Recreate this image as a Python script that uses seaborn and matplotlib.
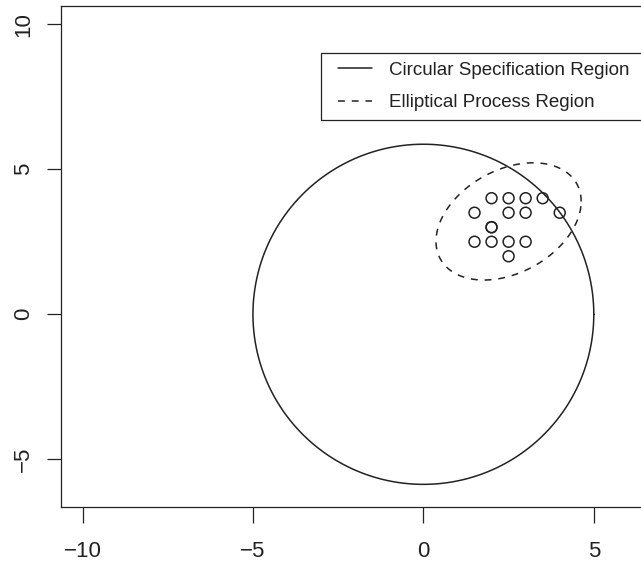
import numpy as np
import pandas as pd
import matplotlib
matplotlib.use("Agg")
import matplotlib.pyplot as plt
from matplotlib.legend_handler import HandlerLine2D
from matplotlib.lines import Line2D
from matplotlib.patches import Rectangle
from matplotlib.transforms import IdentityTransform
import seaborn as sns

# ---- data ----
obs_x = [2.0, 2.5, 3.0, 3.5, 1.5, 2.5, 3.0, 4.0, 2.0, 2.0, 1.5, 2.0, 2.5, 3.0, 2.5]
obs_y = [4.0, 4.0, 4.0, 4.0, 3.5, 3.5, 3.5, 3.5, 3.0, 3.0, 2.5, 2.5, 2.5, 2.5, 2.0]

spec_center = (0.0, 0.0)
spec_radius_x = 5.0
spec_radius_y = 5.86

proc_center = (2.5, 3.2)
proc_half_x = 2.13
proc_half_y = 2.02
proc_corr = 0.34

x_ticks = [-10, -5, 0, 5]
y_ticks = [-5, 0, 5, 10]
legend_labels = ["Circular Specification Region", "Elliptical Process Region"]

# ---- style ----
sns.set_style("white")
plt.rcParams["font.family"] = ["Liberation Sans", "DejaVu Sans"]
INK = "#222222"

W, H = 641, 564
fig = plt.figure(figsize=(W / 100, H / 100), dpi=100)
ax_left, ax_right, ax_top, ax_bottom = 60.7, 649.7, 5.5, 507.0
ax = fig.add_axes([ax_left / W, 1 - ax_bottom / H,
                   (ax_right - ax_left) / W, (ax_bottom - ax_top) / H])

t = np.linspace(0, 2 * np.pi, 400)
spec_df = pd.DataFrame({
    "x": spec_center[0] + spec_radius_x * np.cos(t),
    "y": spec_center[1] + spec_radius_y * np.sin(t),
})
proc_df = pd.DataFrame({
    "x": proc_center[0] + proc_half_x * np.cos(t),
    "y": proc_center[1] + proc_half_y * (proc_corr * np.cos(t)
                                         + np.sqrt(1 - proc_corr ** 2) * np.sin(t)),
})
pts_df = pd.DataFrame({"x": obs_x, "y": obs_y})

sns.lineplot(data=spec_df, x="x", y="y", sort=False, estimator=None,
             color=INK, linewidth=1.1, ax=ax)
sns.lineplot(data=proc_df, x="x", y="y", sort=False, estimator=None,
             color=INK, linewidth=1.1, ax=ax, dashes=False)
ax.lines[-1].set_dashes((4.5, 4.5))
sns.scatterplot(data=pts_df, x="x", y="y", ax=ax, s=62, marker="o",
                facecolor="none", edgecolor=INK, linewidth=1.1, zorder=3)

ax.set_xlim(-10.64, 6.64)
ax.set_ylim(-6.64, 10.64)
ax.set_xticks(x_ticks)
ax.set_yticks(y_ticks)
ax.set_xticklabels([f"{v}".replace("-", "\u2212") for v in x_ticks])
ax.set_yticklabels([f"{v}".replace("-", "\u2212") for v in y_ticks],
                   rotation=90, va="center")
ax.set_xlabel("")
ax.set_ylabel("")
for s in ax.spines.values():
    s.set_visible(True)
    s.set_color(INK)
    s.set_linewidth(0.9)
ax.tick_params(axis="x", direction="out", length=11.5, width=0.9, color=INK,
               labelsize=16, pad=13, labelcolor=INK, bottom=True)
ax.tick_params(axis="y", direction="out", length=10, width=0.9, color=INK,
               labelsize=16, pad=9, labelcolor=INK, left=True)

# ---- legend ----
fs_pt = 13.5
fs_px = fs_pt * 100 / 72
lead_px = 8.5


class ShiftedLine(HandlerLine2D):
    def get_xdata(self, legend, xdescent, ydescent, width, height, fontsize):
        x0 = -xdescent + lead_px * 72 / 100
        return [x0, -xdescent + width], [0.5 * (x0 - xdescent + width)]


h1 = Line2D([], [], color=INK, linewidth=1.1)
h2 = Line2D([], [], color=INK, linewidth=1.1, dashes=(4.5, 4.5))
leg = ax.legend([h1, h2], legend_labels, loc="upper left",
                bbox_to_anchor=(-3, 9), bbox_transform=ax.transData,
                fontsize=fs_pt, frameon=True, fancybox=False, shadow=False,
                borderpad=0.45, borderaxespad=0,
                handlelength=(34 + lead_px) / fs_px, handletextpad=0.9,
                labelspacing=0.82,
                handler_map={Line2D: ShiftedLine()})
leg.get_frame().set_visible(False)
for txt in leg.get_texts():
    txt.set_color(INK)

# frame of the legend box, which runs past the right edge of the figure
fig.canvas.draw()
bb = leg.get_window_extent()
fig.add_artist(Rectangle((bb.x0, bb.y0), 665 - bb.x0, bb.height,
                         transform=IdentityTransform(), fill=False,
                         edgecolor=INK, linewidth=0.9, clip_on=False))

fig.savefig("out.png", dpi=100)
